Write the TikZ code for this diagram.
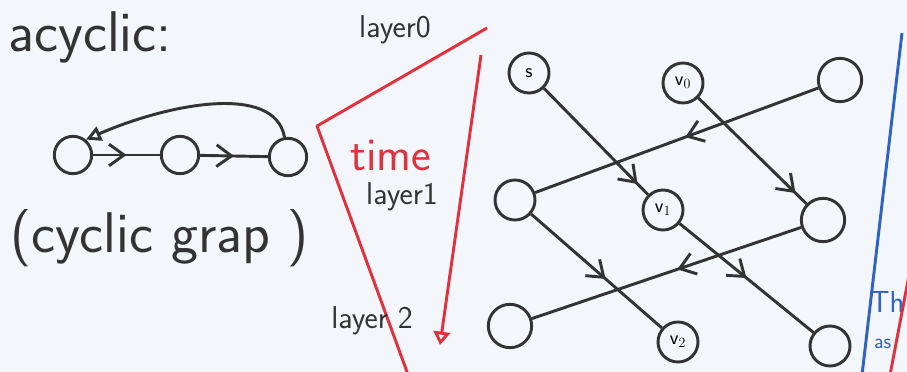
\documentclass[tikz,border=0pt]{standalone}
\usepackage{tikz}
\usetikzlibrary{calc,arrows.meta,decorations.markings}
\definecolor{pen-ink}{HTML}{333333}
\definecolor{pen-red}{HTML}{E0313F}
\definecolor{pen-blue}{HTML}{2F62C4}
\definecolor{paper}{HTML}{F3F6FB}
\tikzset{
  vtx/.style={circle, draw=pen-ink, line width=2.5pt, minimum size=1.2cm, inner sep=0pt, font=\sffamily\fontsize{17}{17}\selectfont},
  smallvtx/.style={vtx, minimum size=1.12cm},
  edge/.style={pen-ink, line width=2.5pt},
  midarrow/.style={postaction={decorate}, decoration={markings,
      mark=at position #1 with {\arrow[pen-ink, line width=2.5pt]{Straight Barb[length=4.5mm,width=6.5mm]}}}},
  midarrow/.default=0.5,
  handtext/.style={text=pen-ink, font=\sffamily\fontsize{49}{52}\selectfont},
  layertext/.style={text=pen-ink, font=\sffamily\fontsize{27}{28}\selectfont},
}
\begin{document}
\begin{tikzpicture}[x=0.03cm, y=-0.03cm]

    % Paper and frame
    \fill[paper] (0,0) rectangle (907,372);
    \useasboundingbox (0,0) rectangle (907,372);

    % Cyclic example on the left
    \node[handtext, anchor=base east, inner sep=0pt] (acyc) at (172,52) {acyclic:};
    \node[smallvtx] (a1) at (73,155) {};
    \node[smallvtx] (a2) at (180,155) {};
    \node[smallvtx] (a3) at (288,157) {};
    \draw[edge, midarrow] (a1) -- (a2);
    \draw[edge, midarrow] (a2) -- (a3);
    \draw[edge, -{Triangle[open, length=4.5mm, width=4.5mm]}]
        (a3.100) .. controls +(-10,-55) and +(80,-35) .. (a1.50);
    \node[handtext, anchor=base west] (cyc) at (6,252) {(cyclic grap\hspace{0.5cm})};

    % Time arrow in red
    \coordinate (t0) at (487,28);
    \coordinate (t1) at (317,126);
    \coordinate (t2) at (410,380);
    \coordinate (tA) at (481,55);
    \coordinate (tB) at (440,345);
    \draw[pen-red, line width=2.5pt, line join=round] (t0) -- (t1) -- (t2);
    \draw[pen-red, line width=2.5pt, -{Triangle[open, length=4mm, width=5mm]}] (tA) -- (tB);
    \node[text=pen-red, font=\sffamily\fontsize{40}{40}\selectfont] (time) at (391,156) {time};
    \node[layertext] (l0) at (395,30) {layer0};
    \node[layertext] (l1) at (402,197) {layer1};
    \node[layertext] (l2) at (372,321) {layer 2};

    % Layered graph on the right
    \node[vtx] (s) at (529,73) {s};
    \node[vtx] (v0) at (683,83) {v$_0$};
    \node[vtx, minimum size=1.3cm] (r1) at (840,80) {};
    \node[vtx] (m2) at (515,200) {};
    \node[vtx] (v1) at (663,210) {v$_1$};
    \node[vtx, minimum size=1.3cm] (r2) at (823,220) {};
    \node[vtx, minimum size=1.3cm] (m3) at (510,326) {};
    \node[vtx] (v2) at (678,342) {v$_2$};
    \node[vtx] (r3) at (830,346) {};

    \draw[edge, midarrow=0.9] (s) -- (v1);
    \draw[edge, midarrow=0.9] (v0) -- (r2);
    \draw[edge, midarrow=0.47] (r1) -- (m2);
    \draw[edge, midarrow=0.57] (m2) -- (v2);
    \draw[edge, midarrow=0.5] (v1) -- (r3);
    \draw[edge, midarrow=0.46] (r2) -- (m3);

    % Margin line and notes at the right
    \coordinate (b0) at (902,33);
    \coordinate (b1) at (862,375);
    \draw[pen-blue, line width=2.5pt] (b0) -- (b1);
    \node[text=pen-blue, font=\sffamily\fontsize{26}{26}\selectfont, anchor=west] (th) at (866,302) {Th};
    \node[text=pen-blue, font=\sffamily\fontsize{18}{18}\selectfont, anchor=west] (as) at (870,344) {as};
    \coordinate (r0) at (910,270);
    \coordinate (rE) at (890,375);
    \draw[pen-red, line width=2.5pt] (r0) -- (rE);

\end{tikzpicture}
\end{document}
